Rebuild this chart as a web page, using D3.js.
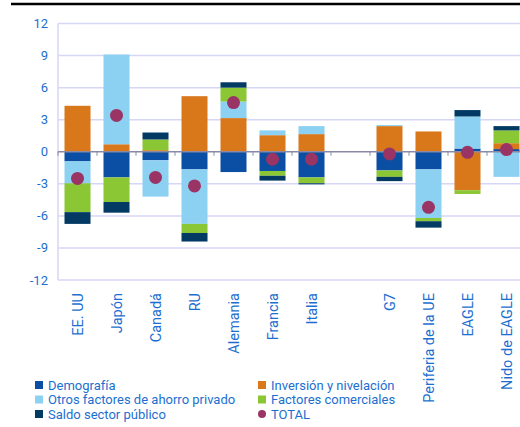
<!DOCTYPE html>
<html>
<head>
<meta charset="utf-8">
<script src="https://cdn.jsdelivr.net/npm/d3@7"></script>
<style>
  body { margin: 0; background: #fff; }
  svg text { font-family: "Roboto", sans-serif; fill: #1c6fd0; }
</style>
</head>
<body>
<svg id="chart" width="520" height="427"></svg>
<script>
// categories (a spacer slot sits between Italia and G7)
var categories = ["EE. UU", "Japón", "Canadá", "RU", "Alemania", "Francia", "Italia", "G7", "Periferia de la UE", "EAGLE", "Nido de EAGLE"];
var gapAfter = "Italia";

// contributions by factor, pp
var demografia  = [-0.9, -2.4, -0.8, -1.65, -1.9, -1.8, -2.4, -1.75, -1.65, 0.3, 0.25];
var inversion   = [4.3, 0.7, 0.15, 5.2, 3.15, 1.55, 1.65, 2.4, 1.9, -3.6, 0.55];
var otros       = [-2.05, 8.4, -3.4, -5.1, 1.55, 0.45, 0.75, 0.1, -4.55, 3.0, -2.35];
var comerciales = [-2.7, -2.3, 1.0, -0.85, 1.3, -0.45, -0.55, -0.6, -0.3, -0.35, 1.2];
var saldo       = [-1.1, -1.0, 0.65, -0.8, 0.5, -0.45, -0.1, -0.4, -0.6, 0.6, 0.4];
var total       = [-2.5, 3.4, -2.4, -3.2, 4.6, -0.7, -0.7, -0.2, -5.2, -0.05, 0.2];

var yTicks = [-12, -9, -6, -3, 0, 3, 6, 9, 12];

var series = [
  { key: "dem", name: "Demografía", values: demografia, color: "#0b4fa5" },
  { key: "inv", name: "Inversión y nivelación", values: inversion, color: "#d9781a" },
  { key: "otr", name: "Otros factores de ahorro privado", values: otros, color: "#8dd1f2" },
  { key: "com", name: "Factores comerciales", values: comerciales, color: "#8bc634" },
  { key: "sal", name: "Saldo sector público", values: saldo, color: "#023a63" }
];
var totalColor = "#993465";

var svg = d3.select("#chart");

// header rule
svg.append("line").attr("x1", 11).attr("x2", 520).attr("y1", 4).attr("y2", 4)
  .attr("stroke", "#000").attr("stroke-width", 2.5);

var domain = [];
categories.forEach(function(c) { domain.push(c); if (c === gapAfter) domain.push("__gap"); });

var x = d3.scaleBand().domain(domain).range([58, 526]).paddingInner(0.333).paddingOuter(0.1667);
var y = d3.scaleLinear().domain([-12, 12]).range([280, 23.5]);

// grid
svg.append("g").selectAll("line").data(yTicks.filter(function(t) { return t !== 0; })).enter()
  .append("line")
  .attr("x1", 58).attr("x2", 520)
  .attr("y1", function(d) { return y(d); }).attr("y2", function(d) { return y(d); })
  .attr("stroke", "#d6d6f5").attr("stroke-width", 1.5);
svg.append("line").attr("x1", 58).attr("x2", 58).attr("y1", y(12)).attr("y2", y(-12))
  .attr("stroke", "#d6d6f5").attr("stroke-width", 1.5);

// y labels
svg.append("g").selectAll("text").data(yTicks).enter().append("text")
  .attr("x", 48).attr("y", function(d) { return y(d); }).attr("dy", "0.35em")
  .attr("text-anchor", "end").style("font-size", "13px")
  .text(function(d) { return d; });

// stacked bars
var rows = categories.map(function(c, i) {
  var r = { cat: c };
  series.forEach(function(s) { r[s.key] = s.values[i]; });
  return r;
});
var stack = d3.stack().keys(series.map(function(s) { return s.key; })).offset(d3.stackOffsetDiverging);
var layers = stack(rows);

svg.append("g").selectAll("g").data(layers).enter().append("g")
  .attr("fill", function(d, i) { return series[i].color; })
  .selectAll("rect").data(function(d) { return d; }).enter().append("rect")
  .attr("x", function(d) { return x(d.data.cat); })
  .attr("width", x.bandwidth())
  .attr("y", function(d) { return y(Math.max(d[0], d[1])); })
  .attr("height", function(d) { return Math.abs(y(d[0]) - y(d[1])); });

// zero axis with ticks at band edges
svg.append("line").attr("x1", 58).attr("x2", 520).attr("y1", y(0)).attr("y2", y(0))
  .attr("stroke", "#8a8aa6").attr("stroke-width", 1.5);
svg.append("g").selectAll("line").data(domain).enter().append("line")
  .attr("x1", function(d) { return x(d) - x.step() * x.paddingInner() / 2; })
  .attr("x2", function(d) { return x(d) - x.step() * x.paddingInner() / 2; })
  .attr("y1", y(0)).attr("y2", y(0) + 4)
  .attr("stroke", "#8a8aa6").attr("stroke-width", 1);

// total dots
svg.append("g").selectAll("circle").data(categories).enter().append("circle")
  .attr("cx", function(d) { return x(d) + x.bandwidth() / 2; })
  .attr("cy", function(d, i) { return y(total[i]); })
  .attr("r", 6.5).attr("fill", totalColor);

// x labels
svg.append("g").selectAll("text").data(categories).enter().append("text")
  .attr("transform", function(d) { return "translate(" + (x(d) + x.bandwidth() / 2) + ",293) rotate(-90)"; })
  .attr("dy", "0.35em").attr("text-anchor", "end").style("font-size", "14.5px")
  .text(function(d) { return d; });

// legend
var legendItems = [
  { name: series[0].name, color: series[0].color, col: 0, row: 0 },
  { name: series[2].name, color: series[2].color, col: 0, row: 1 },
  { name: series[4].name, color: series[4].color, col: 0, row: 2 },
  { name: series[1].name, color: series[1].color, col: 1, row: 0 },
  { name: series[3].name, color: series[3].color, col: 1, row: 1 },
  { name: "TOTAL", color: totalColor, col: 1, row: 2, dot: true }
];
var lg = svg.append("g").selectAll("g").data(legendItems).enter().append("g")
  .attr("transform", function(d) { return "translate(" + (d.col ? 258 : 35) + "," + (385 + d.row * 14.5) + ")"; });
lg.filter(function(d) { return !d.dot; }).append("rect")
  .attr("x", 0).attr("y", -4).attr("width", 8).attr("height", 8)
  .attr("fill", function(d) { return d.color; });
lg.filter(function(d) { return d.dot; }).append("circle")
  .attr("cx", 4).attr("cy", 0).attr("r", 4)
  .attr("fill", function(d) { return d.color; });
lg.append("text").attr("x", 13).attr("dy", "0.35em").style("font-size", "13px")
  .text(function(d) { return d.name; });
</script>
</body>
</html>
